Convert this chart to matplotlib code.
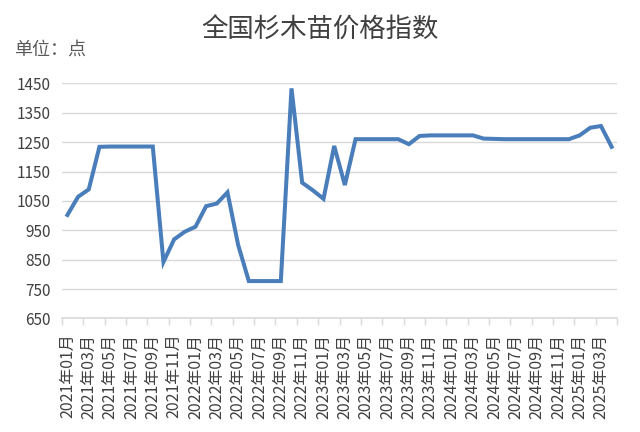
import matplotlib
matplotlib.use('Agg')
import matplotlib.pyplot as plt
from matplotlib.ticker import FixedLocator

plt.rcParams['font.family'] = ['Noto Sans CJK SC', 'DejaVu Sans']

# months 2021-01 .. 2025-04
years = [2021] * 12 + [2022] * 12 + [2023] * 12 + [2024] * 12 + [2025] * 4
months = list(range(1, 13)) * 4 + [1, 2, 3, 4]
months_lbl = ['%d年%02d月' % (y, m) for y, m in zip(years, months)]

index_vals = [
    1002, 1064, 1089, 1234, 1235, 1235, 1235, 1235, 1235, 842,
    919, 945, 962, 1032, 1041, 1079, 900, 777, 777, 777,
    777, 1433, 1112, 1086, 1057, 1237, 1104, 1260, 1260, 1260,
    1260, 1260, 1243, 1271, 1273, 1273, 1273, 1273, 1273, 1262,
    1261, 1260, 1260, 1260, 1260, 1260, 1260, 1260, 1273, 1299,
    1305, 1234,
]

yticks = [650, 750, 850, 950, 1050, 1150, 1250, 1350, 1450]

fig = plt.figure(figsize=(6.4, 4.32), dpi=100)
ax = fig.add_axes([0.097, 0.263, 0.867, 0.544])

x = list(range(len(index_vals)))
ax.plot(x, index_vals, color='#4a7ebb', lw=2.9, solid_joinstyle='miter', zorder=3)

ax.set_xlim(-0.5, len(index_vals) - 0.5)
ax.set_ylim(650, 1450)
ax.set_yticks(yticks)
ax.grid(axis='y', color='#d9d9d9', lw=1.0)
ax.set_axisbelow(True)

# tick marks between category pairs, labels on every other month
ax.xaxis.set_major_locator(FixedLocator([i - 0.5 for i in range(0, len(x) + 1, 2)]))
ax.xaxis.set_major_formatter(plt.NullFormatter())
ax.xaxis.set_minor_locator(FixedLocator(x[::2]))
ax.set_xticklabels(months_lbl[::2], minor=True, rotation=90, fontsize=11.5, color='#404040')
ax.tick_params(axis='x', which='major', length=5, color='#d9d9d9', width=1)
ax.tick_params(axis='x', which='minor', length=0, pad=11)
ax.tick_params(axis='y', length=0, labelsize=11, labelcolor='#404040', pad=8)

for s in ['top', 'right', 'left']:
    ax.spines[s].set_visible(False)
ax.spines['bottom'].set_color('#d9d9d9')
ax.spines['bottom'].set_linewidth(1.2)

fig.text(0.5, 0.93, '全国杉木苗价格指数', ha='center', va='center', fontsize=19,
         fontweight='light', color='#404040')
fig.text(0.022, 0.885, '单位：点', ha='left', va='center', fontsize=13,
         fontweight='light', color='#595959')

fig.savefig('out.png', dpi=100)
